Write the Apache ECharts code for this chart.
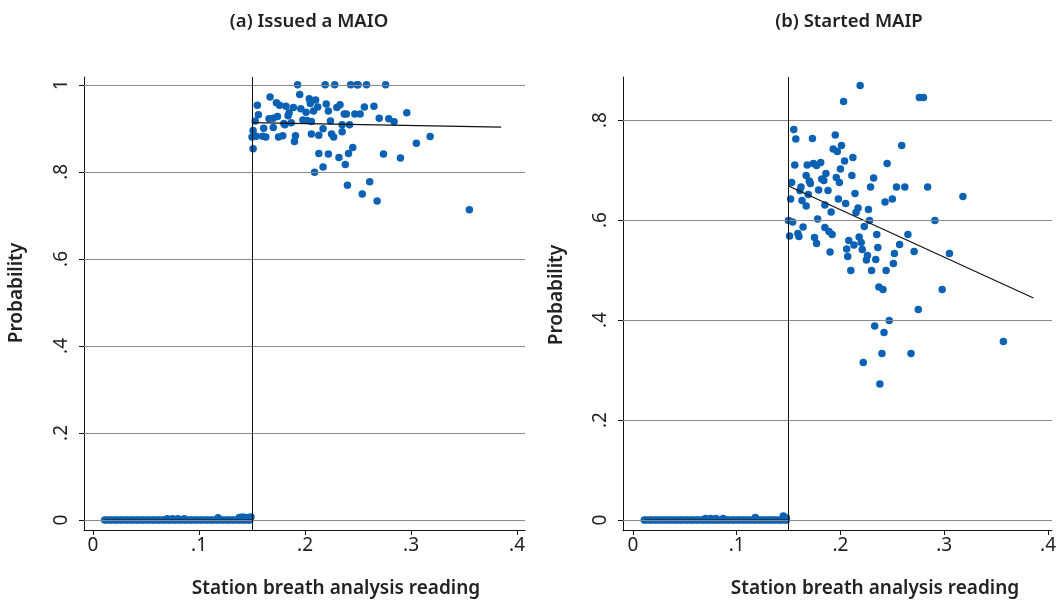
<!DOCTYPE html>
<html>
<head>
<meta charset="utf-8">
<script src="https://cdn.jsdelivr.net/npm/echarts@6/dist/echarts.min.js"></script>
<style>html,body{margin:0;padding:0;background:#fff}#c{width:1059px;height:600px}</style>
</head>
<body>
<div id="c"></div>
<script>
// ---------- DATA ----------
const panelTitles = ['(a) Issued a MAIO', '(b) Started MAIP'];
const xAxisTitle = 'Station breath analysis reading';
const yAxisTitle = 'Probability';
const xTicks = [0, 0.1, 0.2, 0.3, 0.4];
const yTicksA = [0, 0.2, 0.4, 0.6, 0.8, 1];
const yTicksB = [0, 0.2, 0.4, 0.6, 0.8];
const cutoff = 0.15;

// Panel (a): readings below cutoff (probability ~0)
const aBelow = [
[0.011,0],[0.013,0],[0.016,0],[0.018,0],[0.021,0],[0.023,0],[0.026,0],[0.028,0],[0.031,0],[0.033,0],
[0.036,0],[0.038,0],[0.041,0],[0.043,0],[0.046,0],[0.048,0],[0.051,0],[0.053,0],[0.056,0],[0.058,0],
[0.061,0],[0.063,0],[0.066,0],[0.068,0],[0.071,0],[0.073,0],[0.076,0],[0.078,0],[0.081,0],[0.083,0],
[0.086,0],[0.088,0],[0.091,0],[0.093,0],[0.096,0],[0.098,0],[0.101,0],[0.103,0],[0.106,0],[0.108,0],
[0.111,0],[0.113,0],[0.116,0],[0.118,0],[0.121,0],[0.123,0],[0.126,0],[0.128,0],[0.131,0],[0.133,0],
[0.136,0],[0.138,0],[0.141,0],[0.143,0],[0.146,0],[0.148,0],
[0.070,0.003],[0.075,0.003],[0.080,0.003],[0.086,0.003],[0.118,0.005],[0.138,0.006],[0.141,0.007],
[0.144,0.006],[0.147,0.006],[0.149,0.007]
];
// Panel (a): readings above cutoff
const aAbove = [
[0.193,1.0],[0.219,1.0],[0.228,1.0],[0.243,1.0],[0.249,1.0],[0.250,1.0],[0.258,1.0],[0.276,1.0],
[0.195,0.978],[0.167,0.972],[0.204,0.968],[0.210,0.965],[0.205,0.957],[0.173,0.959],[0.176,0.953],
[0.182,0.951],[0.155,0.953],[0.189,0.948],[0.196,0.945],[0.220,0.956],[0.230,0.948],[0.233,0.954],
[0.212,0.949],[0.208,0.940],[0.222,0.940],[0.256,0.949],[0.265,0.951],[0.201,0.937],[0.185,0.936],
[0.184,0.929],[0.156,0.931],[0.166,0.922],[0.170,0.923],[0.174,0.927],[0.237,0.933],[0.239,0.933],
[0.247,0.933],[0.252,0.933],[0.296,0.936],[0.153,0.917],[0.198,0.919],[0.202,0.918],[0.206,0.916],
[0.224,0.917],[0.180,0.911],[0.187,0.913],[0.270,0.923],[0.279,0.922],[0.284,0.915],[0.170,0.902],
[0.161,0.900],[0.181,0.908],[0.217,0.899],[0.235,0.908],[0.242,0.908],[0.151,0.895],[0.150,0.880],
[0.154,0.882],[0.160,0.882],[0.163,0.880],[0.175,0.880],[0.179,0.883],[0.191,0.883],[0.190,0.870],
[0.206,0.887],[0.213,0.884],[0.225,0.887],[0.227,0.880],[0.235,0.892],[0.245,0.856],[0.241,0.842],
[0.213,0.842],[0.222,0.841],[0.274,0.841],[0.290,0.832],[0.232,0.833],[0.238,0.817],[0.217,0.811],
[0.209,0.799],[0.305,0.866],[0.318,0.881],[0.151,0.853],[0.240,0.769],[0.261,0.777],[0.254,0.749],
[0.268,0.733],[0.355,0.713]
];
const aFitBelow = [[0.011,0],[0.15,0]];
const aFitAbove = [[0.15,0.913],[0.385,0.903]];

// Panel (b): readings below cutoff
const bBelow = [
[0.011,0],[0.013,0],[0.016,0],[0.018,0],[0.021,0],[0.023,0],[0.026,0],[0.028,0],[0.031,0],[0.033,0],
[0.036,0],[0.038,0],[0.041,0],[0.043,0],[0.046,0],[0.048,0],[0.051,0],[0.053,0],[0.056,0],[0.058,0],
[0.061,0],[0.063,0],[0.066,0],[0.068,0],[0.071,0],[0.073,0],[0.076,0],[0.078,0],[0.081,0],[0.083,0],
[0.086,0],[0.088,0],[0.091,0],[0.093,0],[0.096,0],[0.098,0],[0.101,0],[0.103,0],[0.106,0],[0.108,0],
[0.111,0],[0.113,0],[0.116,0],[0.118,0],[0.121,0],[0.123,0],[0.126,0],[0.128,0],[0.131,0],[0.133,0],
[0.136,0],[0.138,0],[0.141,0],[0.143,0],[0.146,0],[0.148,0],
[0.070,0.003],[0.075,0.003],[0.080,0.003],[0.087,0.003],[0.118,0.005],[0.145,0.008],[0.148,0.004]
];
// Panel (b): readings above cutoff
const bAbove = [
[0.219,0.869],[0.203,0.837],[0.276,0.845],[0.280,0.845],[0.155,0.781],[0.157,0.762],[0.173,0.763],
[0.195,0.770],[0.201,0.749],[0.259,0.749],[0.193,0.742],[0.197,0.737],[0.212,0.725],[0.204,0.718],
[0.156,0.710],[0.168,0.710],[0.174,0.713],[0.177,0.709],[0.181,0.715],[0.245,0.713],[0.200,0.702],
[0.186,0.693],[0.167,0.689],[0.211,0.689],[0.232,0.684],[0.182,0.682],[0.184,0.679],[0.196,0.685],
[0.170,0.678],[0.171,0.673],[0.199,0.675],[0.153,0.675],[0.162,0.666],[0.161,0.659],[0.179,0.660],
[0.188,0.659],[0.229,0.666],[0.254,0.666],[0.262,0.666],[0.284,0.666],[0.318,0.647],[0.169,0.651],
[0.214,0.653],[0.152,0.642],[0.163,0.639],[0.198,0.642],[0.167,0.628],[0.185,0.630],[0.205,0.633],
[0.243,0.636],[0.250,0.642],[0.217,0.624],[0.227,0.621],[0.191,0.616],[0.215,0.615],[0.150,0.599],
[0.154,0.596],[0.178,0.602],[0.228,0.599],[0.291,0.599],[0.164,0.586],[0.185,0.585],[0.223,0.587],
[0.151,0.568],[0.159,0.573],[0.160,0.567],[0.175,0.565],[0.189,0.577],[0.192,0.571],[0.218,0.566],
[0.235,0.571],[0.265,0.571],[0.208,0.559],[0.177,0.553],[0.220,0.555],[0.213,0.550],[0.257,0.551],
[0.190,0.536],[0.206,0.542],[0.221,0.541],[0.236,0.545],[0.207,0.527],[0.226,0.529],[0.225,0.520],
[0.234,0.521],[0.252,0.533],[0.271,0.537],[0.305,0.533],[0.251,0.513],[0.210,0.499],[0.230,0.499],
[0.244,0.499],[0.237,0.466],[0.241,0.461],[0.298,0.461],[0.275,0.421],[0.247,0.399],[0.233,0.388],
[0.242,0.375],[0.240,0.333],[0.268,0.333],[0.222,0.315],[0.238,0.272],[0.357,0.357]
];
const bFitBelow = [[0.011,0],[0.15,0]];
const bFitAbove = [[0.15,0.668],[0.386,0.444]];

// ---------- CHART ----------
const FONT = '"Noto Sans", "Open Sans", sans-serif';
const DOT = '#0b62b4';
const fmt = v => v === 0 ? '0' : (v === 1 ? '1' : String(+v.toFixed(2)).replace(/^0\./, '.'));

function xAx(i, min, max) {
  return {
    type: 'value', gridIndex: i, min: min, max: max,
    axisLine: { show: true, onZero: false, lineStyle: { color: '#111', width: 1 } },
    axisTick: { show: true, inside: false, length: 5, customValues: xTicks, lineStyle: { color: '#111' } },
    axisLabel: { customValues: xTicks, formatter: fmt, color: '#222', fontSize: 19, fontFamily: FONT, margin: 6, hideOverlap: false },
    splitLine: { show: false }
  };
}
function yAx(i, min, max, ticks) {
  return {
    type: 'value', gridIndex: i, min: min, max: max,
    axisLine: { show: true, onZero: false, lineStyle: { color: '#111', width: 1 } },
    axisTick: { show: true, inside: false, length: 5, customValues: ticks, lineStyle: { color: '#111' } },
    axisLabel: { customValues: ticks, formatter: fmt, rotate: 90, color: '#222', fontSize: 19, fontFamily: FONT, margin: 13 },
    splitLine: { show: false }
  };
}
function refLines(i, ticks) {
  const data = ticks.map(t => ({ yAxis: t, lineStyle: { color: '#8a8a8a', width: 1, type: 'solid' } }));
  data.push({ xAxis: cutoff, lineStyle: { color: '#111', width: 1, type: 'solid' } });
  return {
    type: 'scatter', xAxisIndex: i, yAxisIndex: i, data: [], z: 1, silent: true,
    markLine: { silent: true, symbol: ['none', 'none'], label: { show: false }, animation: false, data: data }
  };
}
function dots(i, d) {
  return { type: 'scatter', xAxisIndex: i, yAxisIndex: i, data: d, symbol: 'circle', symbolSize: 7.5,
    itemStyle: { color: DOT, opacity: 1 }, z: 3, silent: true };
}
function fit(i, d) {
  return { type: 'line', xAxisIndex: i, yAxisIndex: i, data: d, showSymbol: false, symbol: 'none',
    lineStyle: { color: '#111', width: 1.2 }, z: 4, silent: true };
}

const chart = echarts.init(document.getElementById('c'), null, { renderer: 'canvas' });
chart.setOption({
  animation: false,
  backgroundColor: '#fff',
  grid: [
    { left: 84, top: 77, width: 441, height: 453, containLabel: false },
    { left: 623, top: 77, width: 436, height: 453, containLabel: false }
  ],
  xAxis: [xAx(0, -0.0085, 0.4075), xAx(1, -0.0095, 0.4038)],
  yAxis: [yAx(0, -0.023, 1.018, yTicksA), yAx(1, -0.02, 0.886, yTicksB)],
  graphic: [
    { type: 'text', x: 309, y: 22, style: { text: panelTitles[0], font: '600 18.5px ' + FONT, fill: '#222', align: 'center', verticalAlign: 'middle' } },
    { type: 'text', x: 849, y: 22, style: { text: panelTitles[1], font: '600 18.5px ' + FONT, fill: '#222', align: 'center', verticalAlign: 'middle' } },
    { type: 'text', x: 336, y: 589, style: { text: xAxisTitle, font: '600 19px ' + FONT, fill: '#222', align: 'center', verticalAlign: 'middle' } },
    { type: 'text', x: 875, y: 589, style: { text: xAxisTitle, font: '600 19px ' + FONT, fill: '#222', align: 'center', verticalAlign: 'middle' } },
    { type: 'text', x: 17, y: 293, rotation: Math.PI / 2, style: { text: yAxisTitle, font: '600 19px ' + FONT, fill: '#222', align: 'center', verticalAlign: 'middle' } },
    { type: 'text', x: 557, y: 295, rotation: Math.PI / 2, style: { text: yAxisTitle, font: '600 19px ' + FONT, fill: '#222', align: 'center', verticalAlign: 'middle' } }
  ],
  series: [
    refLines(0, yTicksA), dots(0, aBelow), dots(0, aAbove), fit(0, aFitBelow), fit(0, aFitAbove),
    refLines(1, yTicksB), dots(1, bBelow), dots(1, bAbove), fit(1, bFitBelow), fit(1, bFitAbove)
  ]
});
</script>
</body>
</html>
